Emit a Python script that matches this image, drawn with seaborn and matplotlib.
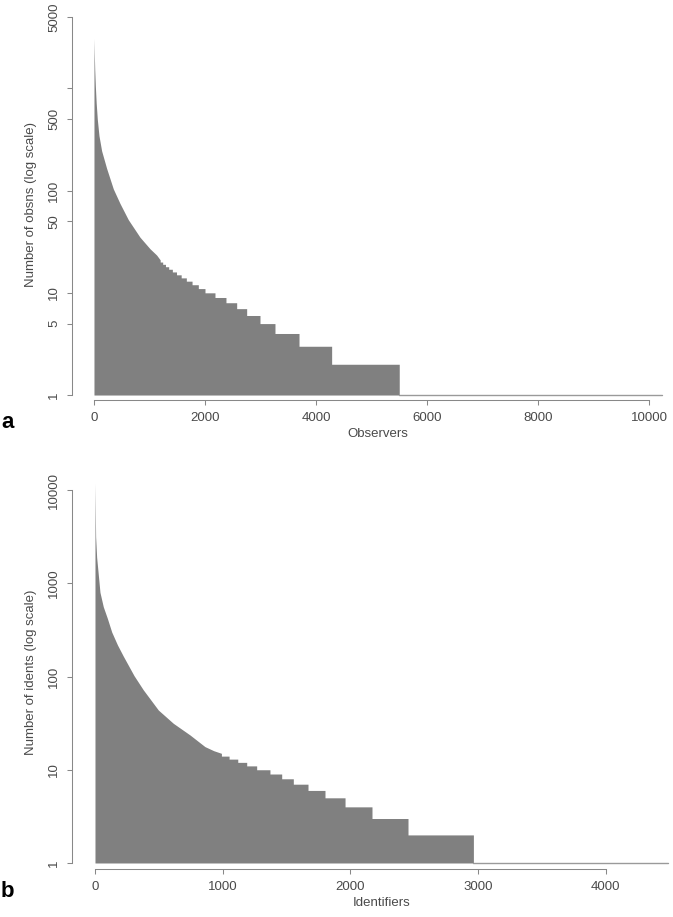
import numpy as np
import pandas as pd
import matplotlib
matplotlib.use("Agg")
import matplotlib.pyplot as plt
from matplotlib.ticker import NullLocator
import seaborn as sns

# panel a: observers ranked by number of observations
obs_curve_rank = [0, 6, 14, 25, 40, 60, 90, 138, 228, 348, 468, 618, 829, 1009, 1129, 1193]
obs_curve_count = [3100, 2200, 1500, 1050, 720, 500, 345, 245, 165, 104, 75, 52, 35, 27, 23.4, 21]
obs_step_start = [1193, 1238, 1288, 1346, 1412, 1487, 1571, 1664, 1767, 1880,
                  2000, 2180, 2378, 2571, 2751, 2991, 3261, 3694, 4282, 5500]
obs_step_level = [20, 19, 18, 17, 16, 15, 14, 13, 12, 11,
                  10, 9, 8, 7, 6, 5, 4, 3, 2, 1]
obs_total = 10230

# panel b: identifiers ranked by number of identifications
ident_curve_rank = [0, 2, 5, 13, 30, 39, 65, 97, 131, 176, 222, 306, 378, 496, 613, 744, 861, 930, 990]
ident_curve_count = [11970, 7000, 3160, 1900, 1083, 800, 560, 420, 300, 218, 165, 102, 72,
                     43.7, 31.5, 23.6, 17.7, 16, 15]
ident_step_start = [990, 1050, 1118, 1188, 1266, 1370, 1462, 1553, 1668, 1801, 1958, 2169, 2451, 2963]
ident_step_level = [14, 13, 12, 11, 10, 9, 8, 7, 6, 5, 4, 3, 2, 1]
ident_total = 4487

obs_yticks = [1, 5, 10, 50, 100, 500, 1000, 5000]
obs_ylabels = ["1", "5", "10", "50", "100", "500", "", "5000"]
obs_xticks = [0, 2000, 4000, 6000, 8000, 10000]
ident_yticks = [1, 10, 100, 1000, 10000]
ident_ylabels = ["1", "10", "100", "1000", "10000"]
ident_xticks = [0, 1000, 2000, 3000, 4000]


def build(curve_r, curve_c, starts, levels, total):
    edges = np.append(starts, total)
    sx = np.column_stack([edges[:-1], edges[1:]]).ravel()
    sy = np.repeat(levels, 2)
    return pd.DataFrame({"rank": np.concatenate([curve_r, sx]),
                         "count": np.concatenate([curve_c, sy]).astype(float)})


sns.set_theme(style="white")
plt.rcParams["font.family"] = ["Liberation Sans", "DejaVu Sans"]

W, H = 673, 917
fig = plt.figure(figsize=(W / 100, H / 100), dpi=100)


def px_axes(l, t, r, b):
    return fig.add_axes([l / W, 1 - b / H, (r - l) / W, (b - t) / H])


txt = "#4a4a4a"
axc = "#888888"


def draw(ax, df, xlim, ylim, xticks, yticks, ylabels, xlabel, ylabel, xlab_x):
    ax.fill_between(df["rank"], 1, df["count"], color="#808080", lw=0)
    ones = df[df["count"] == 1]
    sns.lineplot(data=ones, x="rank", y="count", color="#9a9a9a", lw=1,
                 estimator=None, sort=False, ax=ax)
    ax.set_yscale("log")
    ax.set_xlim(*xlim)
    ax.set_ylim(*ylim)
    ax.set_xticks(xticks)
    ax.set_xticklabels([str(t) for t in xticks])
    ax.set_yticks(yticks)
    ax.set_yticklabels(ylabels)
    ax.yaxis.set_minor_locator(NullLocator())
    for s in ["top", "right"]:
        ax.spines[s].set_visible(False)
    ax.spines["left"].set_bounds(yticks[0], yticks[-1])
    ax.spines["bottom"].set_bounds(xticks[0], xticks[-1])
    for s in ["left", "bottom"]:
        ax.spines[s].set_color(axc)
        ax.spines[s].set_linewidth(0.75)
    ax.tick_params(length=3.6, width=0.75, color=axc, labelsize=9.5,
                   labelcolor=txt, pad=5, left=True, bottom=True)
    for lbl in ax.get_yticklabels():
        lbl.set_rotation(90)
        lbl.set_va("center")
    ax.set_xlabel(xlabel, fontsize=9.5, color=txt)
    ax.set_ylabel(ylabel, fontsize=9.5, color=txt)
    ax.xaxis.set_label_coords(xlab_x, -0.072)
    ax.yaxis.set_label_coords(-0.058, 0.5)


ax_a = px_axes(72, 10, 673, 400)
df_a = build(obs_curve_rank, obs_curve_count, obs_step_start, obs_step_level, obs_total)
draw(ax_a, df_a, (-396, 10432), (0.894, 5848), obs_xticks, obs_yticks, obs_ylabels,
     "Observers", "Number of obsns (log scale)", 0.509)

ax_b = px_axes(72, 475, 673, 869)
df_b = build(ident_curve_rank, ident_curve_count, ident_step_start, ident_step_level, ident_total)
draw(ax_b, df_b, (-180, 4526), (0.862, 14490), ident_xticks, ident_yticks, ident_ylabels,
     "Identifiers", "Number of idents (log scale)", 0.516)

fig.text(1 / W, 1 - 428 / H, "a", fontsize=16, fontweight="bold", color="black",
         ha="left", va="baseline")
fig.text(1 / W, 1 - 897 / H, "b", fontsize=16, fontweight="bold", color="black",
         ha="left", va="baseline")

fig.savefig("out.png", dpi=100)
